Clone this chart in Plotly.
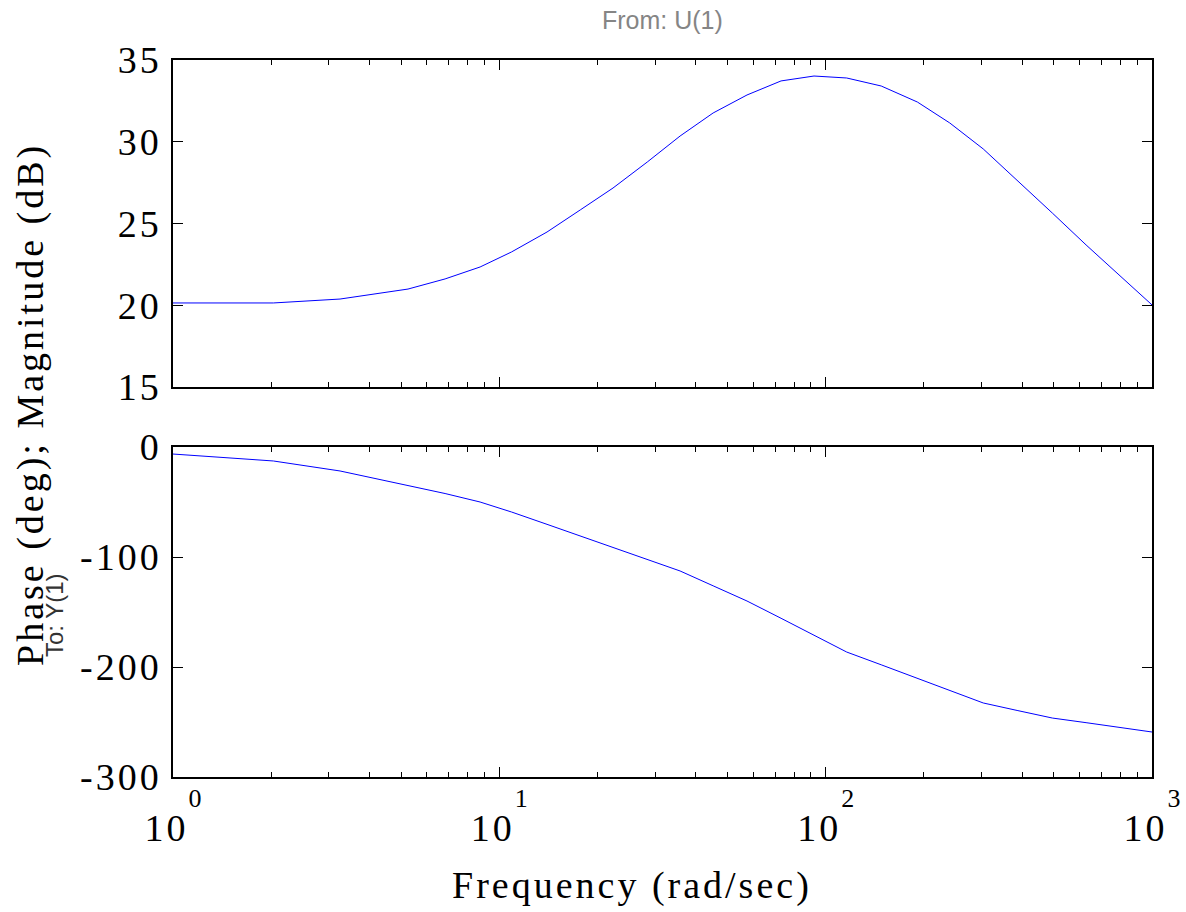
import plotly.graph_objects as go
from plotly.subplots import make_subplots

# Frequency grid (rad/sec)
freq = [1.0, 2.03, 3.25, 5.25, 6.82, 8.73, 10.9, 14.0, 17.7, 22.3, 28.4, 35.8, 45.2,
        57.4, 73.0, 92.1, 116, 148, 191, 240, 304, 386, 495, 628, 799, 1000]
# Magnitude (dB)
mag_db = [20.14, 20.14, 20.38, 20.99, 21.61, 22.34, 23.26, 24.48, 25.83, 27.17, 28.76,
          30.35, 31.76, 32.86, 33.72, 34.02, 33.90, 33.41, 32.43, 31.15, 29.56, 27.66,
          25.64, 23.69, 21.79, 20.02]
# Phase (deg)
phase_deg = [-6.4, -12.7, -21.8, -35.0, -42.3, -50.0, -59.1, -70.3, -80.8, -91.4, -102.2,
             -112.7, -126.2, -140.0, -155.7, -171.1, -186.4, -198.0, -210.5, -221.8,
             -232.7, -239.5, -246.4, -250.6, -255.0, -259.1]

x_major = [1, 10, 100, 1000]
x_exponents = ["0", "1", "2", "3"]
x_minor = [k * 10 ** d for d in range(3) for k in range(2, 10)]
mag_ticks = [15, 20, 25, 30, 35]
phase_ticks = [-300, -200, -100, 0]

SERIF = "Liberation Serif"
SANS = "Liberation Sans"
W, H = 1186, 912
L, R, T, B = 173, 34, 60, 135
plot_h = H - T - B
LS = "letter-spacing:3px"

x_text = ["<span style='font-size:38px;%s'>10</span><sup><span style='font-size:26px'>%s</span></sup>"
          % (LS, e) for e in x_exponents]

fig = make_subplots(rows=2, cols=1, shared_xaxes=True)
fig.add_trace(go.Scatter(x=freq, y=mag_db, mode="lines",
                         line=dict(color="#0000ff", width=1), showlegend=False), row=1, col=1)
fig.add_trace(go.Scatter(x=freq, y=phase_deg, mode="lines",
                         line=dict(color="#0000ff", width=1), showlegend=False), row=2, col=1)

top_dom = [(777 - 387) / plot_h, 1.0]
bot_dom = [0.0, (777 - 447) / plot_h]

common_x = dict(type="log", range=[0, 3], showline=True, linecolor="black", linewidth=1.5,
                mirror="allticks", ticks="inside", ticklen=10, tickcolor="black",
                tickmode="array", tickvals=x_major, ticktext=x_text, automargin=False,
                showgrid=False, zeroline=False,
                minor=dict(tickmode="array", tickvals=x_minor, ticks="inside", ticklen=5,
                           tickcolor="black", showgrid=False))
fig.update_xaxes(**common_x)
fig.update_xaxes(showticklabels=False, row=1, col=1)
fig.update_xaxes(showticklabels=True, tickfont=dict(family=SERIF, size=80, color="black"),
                 ticklabelstandoff=-34, row=2, col=1)

common_y = dict(showline=True, linecolor="black", linewidth=1.5, mirror="allticks",
                ticks="inside", ticklen=10, tickcolor="black", showgrid=False,
                zeroline=False, tickfont=dict(family=SERIF, size=38, color="black"),
                ticklabelstandoff=2, tickmode="array", automargin=False)
fig.update_yaxes(**common_y)
fig.update_yaxes(range=[15, 35], tickvals=mag_ticks,
                 ticktext=["<span style='%s'>%d</span>" % (LS, v) for v in mag_ticks],
                 domain=top_dom, row=1, col=1)
fig.update_yaxes(range=[-300, 0], tickvals=phase_ticks,
                 ticktext=["<span style='%s'>%d</span>" % (LS, v) for v in phase_ticks],
                 domain=bot_dom, row=2, col=1)

def py(pix):
    return (H - B - pix) / plot_h

def px(pix):
    return (pix - L) / (W - L - R)

fig.add_annotation(text="From: U(1)", xref="paper", yref="paper", x=0.5, y=py(20),
                   showarrow=False, xanchor="center", yanchor="middle",
                   font=dict(family=SANS, size=25, color="#858585"))
fig.add_annotation(text="To: Y(1)", xref="paper", yref="paper", x=px(54), y=py(615),
                   showarrow=False, textangle=-90, xanchor="center", yanchor="middle",
                   font=dict(family=SANS, size=24, color="#333333"))
fig.add_annotation(text="<span style='%s'>Phase (deg); Magnitude (dB)</span>" % LS,
                   xref="paper", yref="paper",
                   x=px(30), y=py(405), showarrow=False, textangle=-90,
                   xanchor="center", yanchor="middle",
                   font=dict(family=SERIF, size=38, color="black"))
fig.add_annotation(text="<span style='%s'>Frequency (rad/sec)</span>" % LS,
                   xref="paper", yref="paper",
                   x=px(632), y=py(885), showarrow=False, xanchor="center", yanchor="middle",
                   font=dict(family=SERIF, size=38, color="black"))

fig.update_layout(template="none", width=W, height=H, autosize=False,
                  margin=dict(l=L, r=R, t=T, b=B, autoexpand=False),
                  paper_bgcolor="white", plot_bgcolor="white")

fig.write_html("out.html")
